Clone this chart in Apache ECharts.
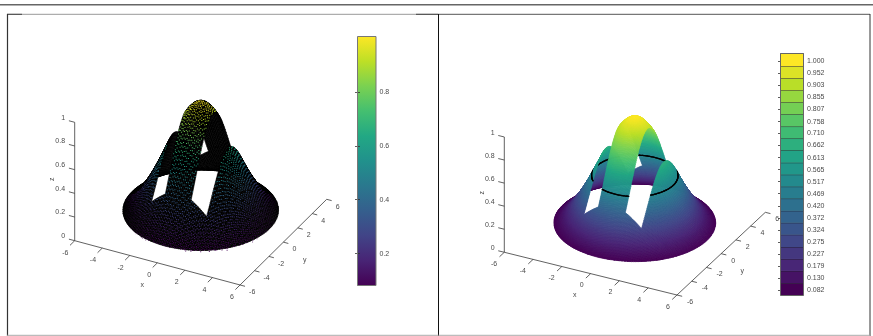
<!DOCTYPE html>
<html><head><meta charset="utf-8">
<style>html,body{margin:0;padding:0;background:#fff}#c{width:873px;height:336px}</style>
<script src="https://cdn.jsdelivr.net/npm/echarts@6/dist/echarts.min.js"></script>
</head><body><div id="c"></div>
<script>
// ---- data ----
const xTicks = [-6,-4,-2,0,2,4,6];
const yTicks = [-6,-4,-2,0,2,4,6];
const zTicks = [0,0.2,0.4,0.6,0.8,1];
const surfaceOffsets = [0,0.5,1,1.5,2,2.5,3,3.5,4,4.5,5];   // |x| and |y| of the height table
const surfaceHeights = [
 [1,.9753,.9048,.7985,.6703,.5353,.4066,.2938,.2019,.1320,.0821],
 [.9753,.9512,.8825,.7788,.6538,.5220,.3965,.2865,.1969,.1287,.0801],
 [.9048,.8825,.8187,.7225,.6065,.4843,.3679,.2658,.1827,.1194,.0743],
 [.7985,.7788,.7225,.6376,.5353,.4274,.3247,.2346,.1612,.1054,.0656],
 [.6703,.6538,.6065,.5353,.4493,.3588,.2725,.1969,.1353,.0885,.0550],
 [.5353,.5220,.4843,.4274,.3588,.2865,.2176,.1572,.1081,.0707,.0439],
 [.4066,.3965,.3679,.3247,.2725,.2176,.1653,.1194,.0821,.0537,.0334],
 [.2938,.2865,.2658,.2346,.1969,.1572,.1194,.0863,.0593,.0388,.0241],
 [.2019,.1969,.1827,.1612,.1353,.1081,.0821,.0593,.0408,.0267,.0166],
 [.1320,.1287,.1194,.1054,.0885,.0707,.0537,.0388,.0267,.0174,.0108],
 [.0821,.0801,.0743,.0656,.0550,.0439,.0334,.0241,.0166,.0108,.0067]
];
const rimRadius = 5;
const slotXRanges = [[-2,-1],[0.875,2]];
const slotYRange = [-3,3];
const contourLevel = 0.49;
const barTicksLeft = [0.2,0.4,0.6,0.8];
const barLevelsRight = [0.082,0.130,0.179,0.227,0.275,0.324,0.372,0.420,0.469,0.517,0.565,0.613,0.662,0.710,0.758,0.807,0.855,0.903,0.952,1.000];
const viridis = ['#440154','#482475','#414487','#355f8d','#2a788e','#21918c','#22a884','#44bf70','#7ad151','#bddf26','#fde725'];
const colorMin = 0.082, colorMax = 1;

// ---- view of each panel (affine 3D axes) ----
const leftView  = {o:[200.7,220],  ux:[13.78,3.69], uy:[7.22,-7.14], uz:118.4, xl:[-6.2,12.2], yl:[9,7.3],  zl:[-9.6,-4.5], xn:[142.3,285],   yn:[304.7,260],   zn:[52.3,179.3]};
const rightView = {o:[634.8,232.3],ux:[14.39,3.56],uy:[7.36,-6.89],uz:115.3, xl:[-7.1,11.8], yl:[10,7],   zl:[-9.6,-4.3], xn:[574.7,295],   yn:[742.3,270.7], zn:[482,192.7]};
const project = (v,x,y,z) => [v.o[0]+v.ux[0]*x+v.uy[0]*y, v.o[1]+v.ux[1]*x+v.uy[1]*y-v.uz*z];
const INK = '#3a3a3a', TEXT = '#4a4a4a', FONT = '7px "Liberation Sans"';

// smooth surface through the table nodes (Catmull-Rom, mirrored about the axes)
function node(i,j){
  const a=Math.abs(i),b=Math.abs(j),H=surfaceHeights;
  if(a>10)return 2*node(10,j)-node(9,j);
  if(b>10)return 2*node(i,10)-node(i,9);
  return H[b][a];
}
const cr=(p0,p1,p2,p3,t)=>0.5*(2*p1+(p2-p0)*t+(2*p0-5*p1+4*p2-p3)*t*t+(3*p1-p0-3*p2+p3)*t*t*t);
function heightAt(x,y){
  const a=Math.abs(x)/0.5,b=Math.abs(y)/0.5,i=Math.min(Math.floor(a),9),j=Math.min(Math.floor(b),9),s=a-i,t=b-j;
  const row=q=>cr(node(i-1,q),node(i,q),node(i+1,q),node(i+2,q),s);
  return cr(row(j-1),row(j),row(j+1),row(j+2),t);
}
function color(z){
  const p=Math.max(0,Math.min(1,(z-colorMin)/(colorMax-colorMin)))*(viridis.length-1);
  const i=Math.min(Math.floor(p),viridis.length-2), f=p-i;
  const c=k=>parseInt(viridis[i].substr(k,2),16)*(1-f)+parseInt(viridis[i+1].substr(k,2),16)*f;
  return 'rgb('+[1,3,5].map(k=>Math.round(c(k))).join(',')+')';
}
const depth=(x,y,z)=>0.51*x-y+3.9*z;

// ---- facets of the surface, far to near ----
function buildFacets(step){
  const list=[],at={},n=Math.round(5/step);
  for(let i=-n;i<n;i++)for(let j=-n;j<n;j++){
    const x0=i*step,x1=x0+step,y0=j*step,y1=y0+step,cx=x0+step/2,cy=y0+step/2;
    if(Math.min(Math.hypot(x0,y0),Math.hypot(x1,y0),Math.hypot(x0,y1),Math.hypot(x1,y1))>=rimRadius)continue;
    if(cy>slotYRange[0]&&cy<slotYRange[1]&&slotXRanges.some(r=>cx>r[0]&&cx<r[1]))continue;
    const pts=[[x0,y0],[x1,y0],[x1,y1],[x0,y1]].map(p=>{
      const r=Math.hypot(p[0],p[1]),k=r>rimRadius?rimRadius/r:1,x=p[0]*k,y=p[1]*k;
      return [x,y,heightAt(x,y)];
    });
    const z=(pts[0][2]+pts[1][2]+pts[2][2]+pts[3][2])/4;
    const mx=(pts[0][0]+pts[1][0]+pts[2][0]+pts[3][0])/4,my=(pts[0][1]+pts[1][1]+pts[2][1]+pts[3][1])/4;
    const f={k:'f',p:pts,z,c:[mx,my,z],d:depth(mx,my,z)};
    list.push(f); at[i+','+j]=f;
  }
  return {list,at};
}
const COARSE=0.125, FINE=0.0625;
const meshFacets=buildFacets(COARSE), smoothFacets=buildFacets(FINE);
// contour ring segments, taken from the facets
const ring=[];
smoothFacets.list.forEach(f=>{
  const hit=[];
  for(let e=0;e<4;e++){
    const a=f.p[e],b=f.p[(e+1)%4];
    if((a[2]-contourLevel)*(b[2]-contourLevel)<0){
      const t=(contourLevel-a[2])/(b[2]-a[2]);
      hit.push([a[0]+(b[0]-a[0])*t,a[1]+(b[1]-a[1])*t,contourLevel]);
    }
  }
  if(hit.length===2)ring.push({k:'r',p:hit,d:f.d+0.5});
});
// left panel: black mesh with small coloured spots where the mesh cells open up on screen
function signedArea(v,f){
  const s=f.p.map(q=>project(v,q[0],q[1],q[2]));let a=0;
  for(let e=0;e<4;e++){const n=s[(e+1)%4];a+=s[e][0]*n[1]-n[0]*s[e][1];}
  return -a/2;
}
const leftDots=[];
for(let k=1;k<=7000;k++){
  const x=((k*0.7548777)%1)*10-5, y=((k*0.5698403)%1)*10-5;
  const f=meshFacets.at[Math.floor(x/COARSE)+','+Math.floor(y/COARSE)];
  if(!f)continue;
  const area=signedArea(leftView,f);
  if(area<1)continue;
  const z=heightAt(x,y);
  const side=Math.abs(13.78*x+7.22*y)/78;
  const fade=Math.max(0,1-side*side*side);
  leftDots.push({k:'d',c:[x,y,z],z,s:1,o:0.92*fade,d:f.d+0.25});
}
const leftItems=meshFacets.list.concat(leftDots).sort((a,b)=>a.d-b.d);
const rightItems=smoothFacets.list.concat(ring).sort((a,b)=>a.d-b.d);

function surfaceSeries(view,items,mesh){
  return {type:'custom',coordinateSystem:'cartesian2d',xAxisIndex:0,yAxisIndex:0,clip:false,silent:true,animation:false,progressive:0,
    data:items.map((_,i)=>[i]),encode:{x:0},
    renderItem(params,api){
      const it=items[api.value(0)];
      if(it.k==='f'){
        const pts=it.p.map(q=>api.coord(project(view,q[0],q[1],q[2])));
        const c=mesh?'#000':color(it.z);
        return {type:'polygon',shape:{points:pts},style:{fill:c,stroke:c,lineWidth:0.6,lineJoin:'round'}};
      }
      if(it.k==='r'){
        const a=api.coord(project(view,...it.p[0])),b=api.coord(project(view,...it.p[1]));
        return {type:'line',shape:{x1:a[0],y1:a[1],x2:b[0],y2:b[1]},style:{stroke:'#000',lineWidth:1.3,lineCap:'round'}};
      }
      const a=api.coord(project(view,...it.c));
      return {type:'rect',shape:{x:a[0]-it.s/2,y:a[1]-it.s/2,width:it.s,height:it.s},style:{fill:color(it.z),opacity:it.o}};
    }};
}
function axesSeries(view){
  const els=[];
  const seg=(a,b)=>els.push({t:'l',a,b});
  seg([-6,-6,0],[6,-6,0]); seg([6,-6,0],[6,6,0]); seg([-6,-6,0],[-6,-6,1]);
  xTicks.forEach(v=>{seg([v,-6,0],[v,-6.65,0]);els.push({t:'x',v});});
  yTicks.forEach(v=>{seg([6,v,0],[6.36,v,0]);els.push({t:'y',v});});
  zTicks.forEach(v=>{seg([-6,-6,v],[-6.42,-6,v]);els.push({t:'z',v});});
  ['x','y','z'].forEach(n=>els.push({t:'n',n}));
  return {type:'custom',coordinateSystem:'cartesian2d',xAxisIndex:0,yAxisIndex:0,clip:false,silent:true,animation:false,progressive:0,
    data:els.map((_,i)=>[i]),encode:{x:0},
    renderItem(params,api){
      const e=els[api.value(0)];
      const txt=(pos,text,align,rot)=>({type:'text',x:pos[0],y:pos[1],rotation:rot||0,
        style:{text:String(text),fill:TEXT,font:FONT,align:align,verticalAlign:'middle'}});
      if(e.t==='l'){
        const a=api.coord(project(view,...e.a)),b=api.coord(project(view,...e.b));
        return {type:'line',shape:{x1:a[0],y1:a[1],x2:b[0],y2:b[1]},style:{stroke:INK,lineWidth:0.8}};
      }
      if(e.t==='x'){const p=api.coord(project(view,e.v,-6,0));return txt([p[0]+view.xl[0],p[1]+view.xl[1]],e.v,'right');}
      if(e.t==='y'){const p=api.coord(project(view,6,e.v,0));return txt([p[0]+view.yl[0],p[1]+view.yl[1]],e.v,'left');}
      if(e.t==='z'){const p=api.coord(project(view,-6,-6,e.v));return txt([p[0]+view.zl[0],p[1]+view.zl[1]],e.v,'right');}
      const at=api.coord(view[e.n+'n']);
      return txt(at,e.n,'center',e.n==='z'?Math.PI/2:0);
    }};
}
const stops=viridis.map((c,i)=>({offset:i/(viridis.length-1),color:c}));
const leftBar={type:'custom',coordinateSystem:'cartesian2d',xAxisIndex:1,yAxisIndex:1,silent:true,animation:false,z:1,
  data:[[0]],encode:{x:0},
  renderItem(p,api){
    const a=api.coord([0,colorMin]),b=api.coord([1,1.005]);
    return {type:'rect',shape:{x:a[0],y:b[1],width:b[0]-a[0],height:a[1]-b[1]},
      style:{fill:new echarts.graphic.LinearGradient(0,1,0,0,stops)}};
  }};
const BAND_SHIFT=0.02, axisTop=1.031, axisBottom=0.0604;
const rightBar={type:'custom',coordinateSystem:'cartesian2d',xAxisIndex:2,yAxisIndex:3,silent:true,animation:false,z:1,
  data:barLevelsRight.map((v,i)=>[i]),encode:{x:0},
  renderItem(p,api){
    const i=api.value(0),v=barLevelsRight[i];
    const lo=i===0?axisBottom:v-BAND_SHIFT, hi=i===barLevelsRight.length-1?axisTop:barLevelsRight[i+1]-BAND_SHIFT;
    const a=api.coord([0,lo]),b=api.coord([1,hi]);
    return {type:'group',children:[
      {type:'rect',shape:{x:a[0],y:b[1],width:b[0]-a[0],height:a[1]-b[1]},style:{fill:color(v)}},
      {type:'line',shape:{x1:a[0],y1:b[1],x2:b[0],y2:b[1]},style:{stroke:'#1c1c28',lineWidth:0.9}}
    ]};
  }};
const tickAxis=(idx,pos,show,min,max,vals,fmt,len)=>({type:'value',gridIndex:idx,position:pos,min,max,
  axisLine:{show:false},splitLine:{show:false},
  axisTick:{show:true,inside:true,length:len,customValues:vals,lineStyle:{color:'#333',width:0.8}},
  axisLabel:{show:show,margin:3.5,customValues:vals,formatter:fmt,color:TEXT,fontSize:7,fontFamily:'Liberation Sans'},z:5});

const rule=(x1,y1,x2,y2,c,w)=>({type:'line',silent:true,shape:{x1,y1,x2,y2},style:{stroke:c,lineWidth:w}});
const option={
  animation:false,backgroundColor:'#fff',
  grid:[
    {left:0,top:0,width:873,height:336,show:false},
    {left:357.5,top:36.5,width:18.5,height:249,show:true,borderColor:'#777',borderWidth:1,z:6,backgroundColor:'transparent'},
    {left:780.5,top:53.5,width:23,height:242,show:true,borderColor:'#666',borderWidth:1,z:6,backgroundColor:'transparent'}
  ],
  xAxis:[
    {type:'value',gridIndex:0,min:0,max:873,show:false},
    {type:'value',gridIndex:1,min:0,max:1,show:false},
    {type:'value',gridIndex:2,min:0,max:1,show:false}
  ],
  yAxis:[
    {type:'value',gridIndex:0,min:0,max:336,inverse:true,show:false},
    tickAxis(1,'right',true,colorMin,1.005,barTicksLeft,v=>String(v),2.5),
    tickAxis(1,'left',false,colorMin,1.005,barTicksLeft,v=>String(v),2.5),
    tickAxis(2,'right',true,axisBottom,axisTop,barLevelsRight,v=>v.toFixed(3),2.5)
  ],
  graphic:{elements:[
    rule(0,4.7,873,4.7,'#666',1.6),
    rule(7,14.3,438,14.3,'#999',1),
    rule(438,14.3,870,14.3,'#777',1.2),
    rule(7,14.3,22,14.3,'#444',1),
    rule(416,14.3,438,14.3,'#444',1),
    rule(7.5,14,7.5,336,'#333',1.2),
    rule(438.5,14,438.5,336,'#111',1),
    rule(870,14,870,336,'#333',1),
    rule(7,335.3,870,335.3,'#aaa',1)
  ]},
  series:[
    axesSeries(leftView),axesSeries(rightView),
    surfaceSeries(leftView,leftItems,true),
    surfaceSeries(rightView,rightItems,false),
    leftBar,rightBar
  ]
};
const chart=echarts.init(document.getElementById('c'),null,{renderer:'canvas'});
chart.setOption(option);
</script></body></html>
